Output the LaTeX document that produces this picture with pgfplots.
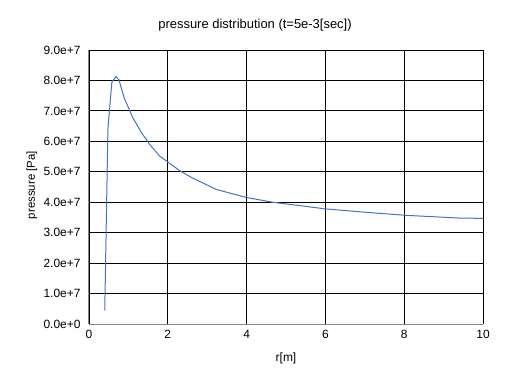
\documentclass[border=0pt]{standalone}
\usepackage{pgfplots}
\pgfplotsset{compat=1.18}
\usepackage{fontspec}
\setmainfont{Liberation Sans}
\definecolor{lineblue}{HTML}{4472C4}
\definecolor{axgray}{HTML}{868686}
\begin{document}
\begin{tikzpicture}
\useasboundingbox (-89bp,-66bp) rectangle (428bp,324bp);
\begin{axis}[
  at={(0,0)}, anchor=south west,
  scale only axis, width=394bp, height=274bp,
  xmin=0, xmax=10, ymin=0, ymax=9e7,
  xtick={0,2,4,6,8,10},
  xticklabels={0,2,4,6,8,10},
  ytick={0,1e7,2e7,3e7,4e7,5e7,6e7,7e7,8e7,9e7},
  yticklabels={0.0e+0,1.0e+7,2.0e+7,3.0e+7,4.0e+7,5.0e+7,6.0e+7,7.0e+7,8.0e+7,9.0e+7},
  scaled y ticks=false, scaled x ticks=false,
  major tick length=0pt,
  grid=major,
  major grid style={black, line width=0.9bp},
  axis x line*=bottom, axis y line*=left,
  axis line style={axgray, line width=1bp, -},
  tick label style={font=\fontsize{12}{14}\selectfont},
  xticklabel style={yshift=-3bp},
  yticklabel style={xshift=-5bp},
]
\addplot[lineblue, line width=1bp] coordinates {
(0.40, 0.44e7)
(0.48, 6.4e7)
(0.58, 7.94e7)
(0.69, 8.13e7)
(0.76, 8.02e7)
(0.89, 7.44e7)
(1.11, 6.78e7)
(1.33, 6.29e7)
(1.54, 5.90e7)
(1.79, 5.52e7)
(2.00, 5.32e7)
(2.30, 5.04e7)
(2.59, 4.82e7)
(2.80, 4.69e7)
(3.23, 4.42e7)
(3.98, 4.16e7)
(4.66, 4.00e7)
(6.01, 3.78e7)
(7.02, 3.67e7)
(8.04, 3.57e7)
(9.39, 3.48e7)
(10.0, 3.47e7)
};
\end{axis}
\node[font=\fontsize{13}{15}\selectfont] at (166bp,299bp) {pressure distribution (t=5e-3[sec])};
\node[font=\fontsize{12}{14}\selectfont] at (197bp,-34bp) {r[m]};
\node[font=\fontsize{11.5}{14}\selectfont, rotate=90] at (-57bp,139bp) {pressure [Pa]};
\end{tikzpicture}
\end{document}
